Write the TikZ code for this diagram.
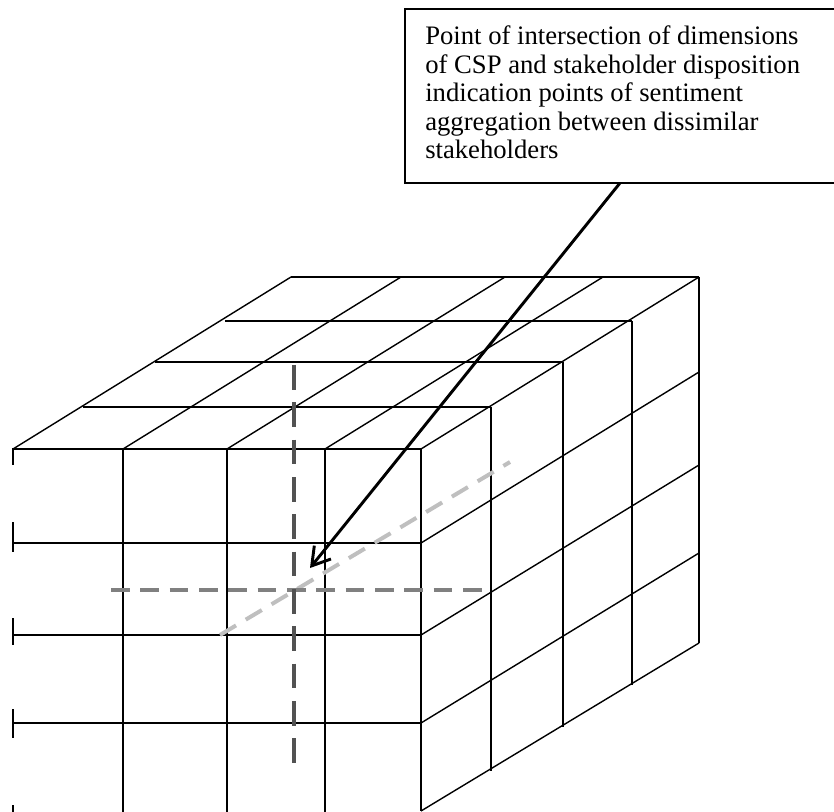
\documentclass[tikz,border=0pt]{standalone}
\usepackage{fontspec}
\setmainfont{Liberation Serif}
\usetikzlibrary{arrows.meta}
\begin{document}
\begin{tikzpicture}[x=0.75pt,y=-0.75pt,
  cubeline/.style={line width=1.05pt,black},
  tickline/.style={line width=1.4pt,black},
  boxline/.style={line width=1.5pt,black},
  darkdash/.style={line width=3pt,color=black!68,dash pattern=on 18.5pt off 9.5pt},
  middash/.style={line width=3pt,color=black!50,dash pattern=on 14pt off 8pt},
  lightdash/.style={line width=3pt,color=black!25,dash pattern=on 14pt off 8.5pt},
  pointer/.style={line width=2.2pt,black,-{Straight Barb[length=13pt,width=16pt,line width=2.2pt]}},
  labeltext/.style={anchor=base west,align=left,inner sep=0pt,font=\fontsize{20pt}{21.4pt}\selectfont}]
\useasboundingbox (0,0) rectangle (834,812);
\clip (0,0) rectangle (834,812);
% ---------- front face ----------
\foreach \yy in {449,543,635,723} \draw[cubeline] (13,\yy) -- (421,\yy);
\foreach \xx in {123,227,325} \draw[cubeline] (\xx,449) -- (\xx,815);
\draw[cubeline] (421,449) -- (421,811);
% left edge ticks
\draw[tickline] (13,448) -- (13,465);
\draw[tickline] (13,522) -- (13,552);
\draw[tickline] (13,618) -- (13,645);
\draw[tickline] (13,709) -- (13,738);
\draw[tickline] (13,805) -- (13,815);
% ---------- top face ----------
\draw[cubeline] (83,407) -- (491,407);
\draw[cubeline] (155,362) -- (563,362);
\draw[cubeline] (225,321) -- (632,321);
\draw[cubeline] (291,277) -- (699,277);
\foreach \xx in {13,123,227,325,421} \draw[cubeline] (\xx,449) -- ({\xx+278},277);
% ---------- side face ----------
\draw[cubeline] (491,407) -- (491,771);
\draw[cubeline] (563,362) -- (563,727);
\draw[cubeline] (632,321) -- (632,685);
\draw[cubeline] (699,277) -- (699,643);
\draw[cubeline] (421,543) -- (699,372);
\draw[cubeline] (421,635) -- (699,465);
\draw[cubeline] (421,723) -- (699,553);
\draw[cubeline] (421,811) -- (699,643);
% ---------- dashed axes ----------
\draw[lightdash] (220,635) -- (510,462);
\draw[middash] (111,590) -- (490,590);
\draw[darkdash] (294,365) -- (294,771);
% ---------- label box ----------
\draw[boxline] (405,9) rectangle (860,183);
\node[labeltext] (label) at (425,159) {Point of intersection of dimensions\\of CSP and stakeholder disposition\\indication points of sentiment\\aggregation between dissimilar\\stakeholders};
\coordinate (arrowstart) at (620,183);
\coordinate (meetpoint) at (310,568);
\draw[pointer] (arrowstart) -- (meetpoint);
\end{tikzpicture}
\end{document}
